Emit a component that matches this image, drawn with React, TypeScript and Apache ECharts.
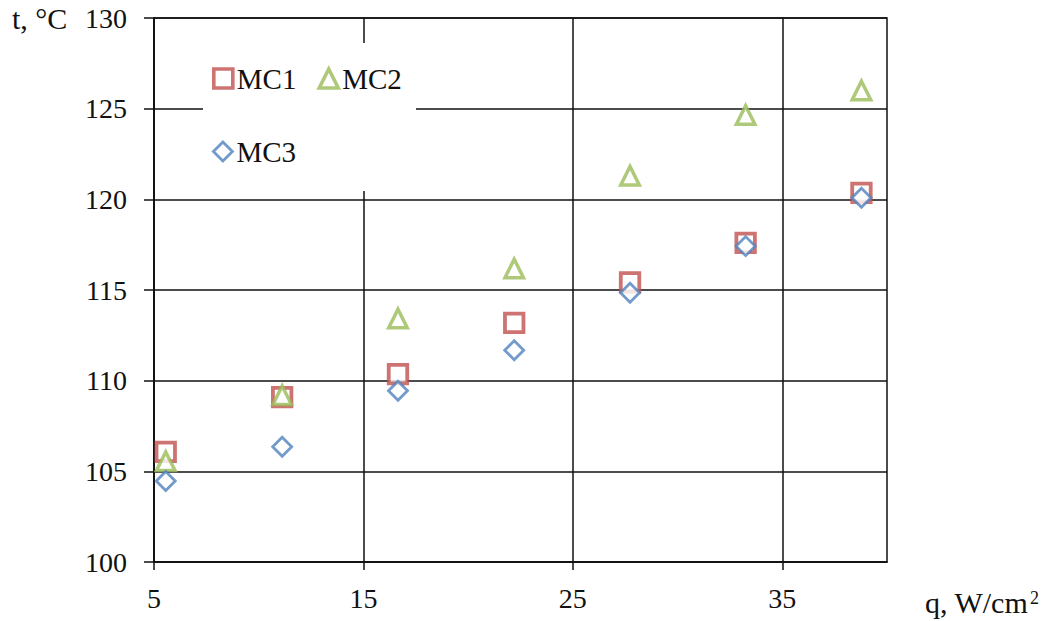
import React, { useEffect, useRef } from "react";
import * as echarts from "echarts";

// Heat flux q, W/cm²
const heatFlux = [5.56, 11.12, 16.65, 22.2, 27.73, 33.25, 38.78];
// Temperature t, °C for each sample
const mc1 = [106.07, 109.09, 110.36, 113.19, 115.42, 117.6, 120.36];
const mc2 = [105.56, 109.2, 113.43, 116.19, 121.3, 124.65, 126.0];
const mc3 = [104.47, 106.35, 109.44, 111.68, 114.85, 117.42, 120.09];

const xTicks = [5, 15, 25, 35];
const seriesNames = ["MC1", "MC2", "MC3"];

const FONT = "Liberation Serif";
const INK = "#111";

export default function App() {
  const ref = useRef<HTMLDivElement>(null);

  useEffect(() => {
    if (!ref.current) return;
    const chart = echarts.init(ref.current, undefined, { renderer: "svg" });

    const pairs = (ys: number[]) => heatFlux.map((x, i) => [x, ys[i]]);

    const lineStyle = { color: INK, width: 1.5 };
    const legendText = { fontSize: 29, fontFamily: FONT, color: INK, padding: [0, 0, 0, -1] };

    chart.setOption({
      animation: false,
      backgroundColor: "#fff",
      textStyle: { fontFamily: FONT, color: INK },
      grid: {
        left: 154,
        right: 162,
        top: 18,
        bottom: 59,
        show: true,
        borderColor: INK,
        borderWidth: 1.5,
        backgroundColor: "transparent",
      },
      xAxis: {
        type: "value",
        min: 5,
        max: 40,
        interval: 10,
        axisLine: { show: true, onZero: false, lineStyle },
        axisTick: {
          show: true,
          inside: false,
          length: 8,
          customValues: xTicks,
          lineStyle,
        },
        axisLabel: {
          customValues: xTicks,
          margin: 22,
          fontSize: 28,
          fontFamily: FONT,
          color: INK,
        },
        splitLine: { show: true, lineStyle },
      },
      yAxis: {
        type: "value",
        min: 100,
        max: 130,
        interval: 5,
        axisLine: { show: true, onZero: false, lineStyle },
        axisTick: { show: true, inside: false, length: 10, lineStyle },
        axisLabel: {
          margin: 27,
          fontSize: 28,
          fontFamily: FONT,
          color: INK,
        },
        splitLine: { show: true, lineStyle },
      },
      legend: [
        {
          data: [seriesNames[0], seriesNames[1]],
          left: 212,
          top: 64,
          padding: 0,
          itemGap: 21,
          itemWidth: 19,
          itemHeight: 19,
          z: 10,
          itemStyle: { borderWidth: 3.6 },
          textStyle: legendText,
        },
        {
          data: [seriesNames[2]],
          left: 212,
          top: 137,
          padding: 0,
          itemWidth: 19,
          itemHeight: 19,
          z: 10,
          itemStyle: { borderWidth: 2.8 },
          textStyle: legendText,
        },
      ],
      graphic: [
        {
          type: "rect",
          z: 1,
          silent: true,
          shape: { x: 203, y: 43, width: 213, height: 148 },
          style: { fill: "#fff" },
        },
        {
          type: "text",
          z: 10,
          x: 12,
          y: 18,
          style: {
            text: "t, °C",
            fontSize: 30,
            fontFamily: FONT,
            fill: INK,
            align: "left",
            verticalAlign: "middle",
          },
        },
        {
          type: "text",
          z: 10,
          x: 925,
          y: 602,
          style: {
            text: "q, W/cm",
            fontSize: 30,
            fontFamily: FONT,
            fill: INK,
            align: "left",
            verticalAlign: "middle",
          },
        },
        {
          type: "text",
          z: 10,
          x: 1030,
          y: 598,
          style: {
            text: "2",
            fontSize: 18,
            fontFamily: FONT,
            fill: INK,
            align: "left",
            verticalAlign: "middle",
          },
        },
      ],
      series: [
        {
          name: seriesNames[0],
          type: "scatter",
          data: pairs(mc1),
          symbol: "rect",
          symbolSize: 18.5,
          itemStyle: { color: "#fff", borderColor: "#C0504D", borderWidth: 3.8 },
        },
        {
          name: seriesNames[1],
          type: "scatter",
          data: pairs(mc2),
          symbol: "triangle",
          symbolSize: 18.5,
          itemStyle: { color: "#fff", borderColor: "#9BBB59", borderWidth: 3.5 },
        },
        {
          name: seriesNames[2],
          type: "scatter",
          data: pairs(mc3),
          symbol: "diamond",
          symbolSize: 19,
          itemStyle: { color: "#fff", borderColor: "#4F81BD", borderWidth: 2.8 },
        },
      ],
    });

    return () => chart.dispose();
  }, []);

  return (
    <div
      ref={ref}
      style={{ position: "fixed", left: 0, top: 0, width: 1049, height: 621 }}
    />
  );
}
